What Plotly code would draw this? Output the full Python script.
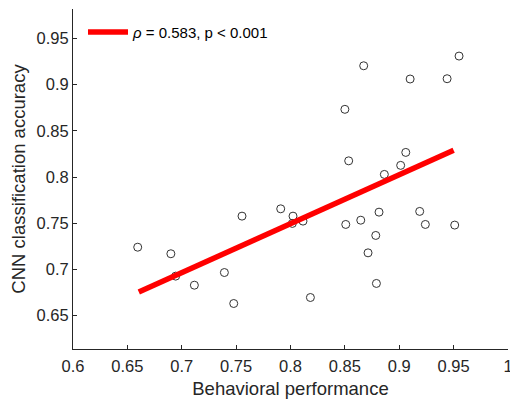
import plotly.graph_objects as go

# Behavioral performance (x) and CNN classification accuracy (y)
behavioral = [0.6595, 0.690, 0.6944, 0.7116, 0.7392, 0.7478, 0.7554, 0.791,
              0.8023, 0.8017, 0.8115, 0.8183, 0.8508, 0.8646, 0.8814, 0.8784,
              0.8713, 0.879, 0.8863, 0.9188, 0.924, 0.951,
              0.8673, 0.910, 0.944, 0.955, 0.850, 0.8535, 0.906, 0.9013]
cnn_accuracy = [0.7241, 0.717, 0.6928, 0.683, 0.6967, 0.6632, 0.7577, 0.7656,
                0.7577, 0.7498, 0.7523, 0.6697, 0.7487, 0.7533, 0.762, 0.7368,
                0.718, 0.6849, 0.8028, 0.7628, 0.7487, 0.748,
                0.9203, 0.906, 0.9063, 0.9308, 0.8732, 0.8175, 0.8266, 0.8126]

# fitted regression line end points
fit_x = [0.6605, 0.950]
fit_y = [0.6757, 0.829]

x_tickvals = [0.6, 0.65, 0.7, 0.75, 0.8, 0.85, 0.9, 0.95, 1.0]
x_ticktext = ["0.6", "0.65", "0.7", "0.75", "0.8", "0.85", "0.9", "0.95", "1"]
y_tickvals = [0.65, 0.7, 0.75, 0.8, 0.85, 0.9, 0.95]
y_ticktext = ["0.65", "0.7", "0.75", "0.8", "0.85", "0.9", "0.95"]

legend_label = "<i>ρ</i> = 0.583, p &lt; 0.001"

FONT = "Liberation Sans, Arial, Helvetica, sans-serif"
AX = "#262626"
RED = "#ff0000"

W, H = 510, 401
ML, MR, MT, MB = 73, 2, 9, 52
PW, PH = W - ML - MR, H - MT - MB


def px_x(p):
    return (p - ML) / PW


def px_y(p):
    return (H - MB - p) / PH


fig = go.Figure()
fig.add_trace(go.Scatter(
    x=behavioral, y=cnn_accuracy, mode="markers",
    marker=dict(symbol="circle-open", size=8, color="#333333", line=dict(width=1, color="#333333")),
    showlegend=False, hoverinfo="x+y"))
fig.add_trace(go.Scatter(
    x=fit_x, y=fit_y, mode="lines", line=dict(color=RED, width=5.5),
    name=legend_label, showlegend=False))

# legend (drawn manually to match the long legend line sample)
fig.add_shape(type="line", xref="paper", yref="paper",
              x0=px_x(88), x1=px_x(128), y0=px_y(32), y1=px_y(32),
              line=dict(color=RED, width=5.5))
fig.add_annotation(xref="paper", yref="paper", x=px_x(130), y=px_y(32.5),
                   xanchor="left", yanchor="middle", showarrow=False,
                   text=legend_label, font=dict(size=15, color="black", family=FONT))

fig.update_layout(
    width=W, height=H,
    margin=dict(l=ML, r=MR, t=MT, b=MB, autoexpand=False),
    paper_bgcolor="white", plot_bgcolor="white",
    font=dict(family=FONT, color=AX),
    showlegend=False,
    xaxis=dict(range=[0.6, 1.0], tickvals=x_tickvals, ticktext=x_ticktext, automargin=False,
               ticklabeloverflow="allow", ticklabelstandoff=2,
               showgrid=False, zeroline=False, showline=True, linecolor=AX, linewidth=1,
               ticks="inside", ticklen=4, tickcolor=AX, tickfont=dict(size=16.5, color=AX),
               title=dict(text="Behavioral performance", font=dict(size=18.5, color=AX), standoff=8)),
    yaxis=dict(range=[0.614, 0.9817], tickvals=y_tickvals, ticktext=y_ticktext, automargin=False,
               ticklabeloverflow="allow",
               showgrid=False, zeroline=False, showline=True, linecolor=AX, linewidth=1,
               ticks="inside", ticklen=4, tickcolor=AX, tickfont=dict(size=16.5, color=AX),
               title=dict(text="CNN classification accuracy", font=dict(size=18.5, color=AX), standoff=6)),
)

fig.write_html("out.html", config={"displayModeBar": False},
               post_script="document.body.style.margin='0';document.body.style.overflow='hidden';")
